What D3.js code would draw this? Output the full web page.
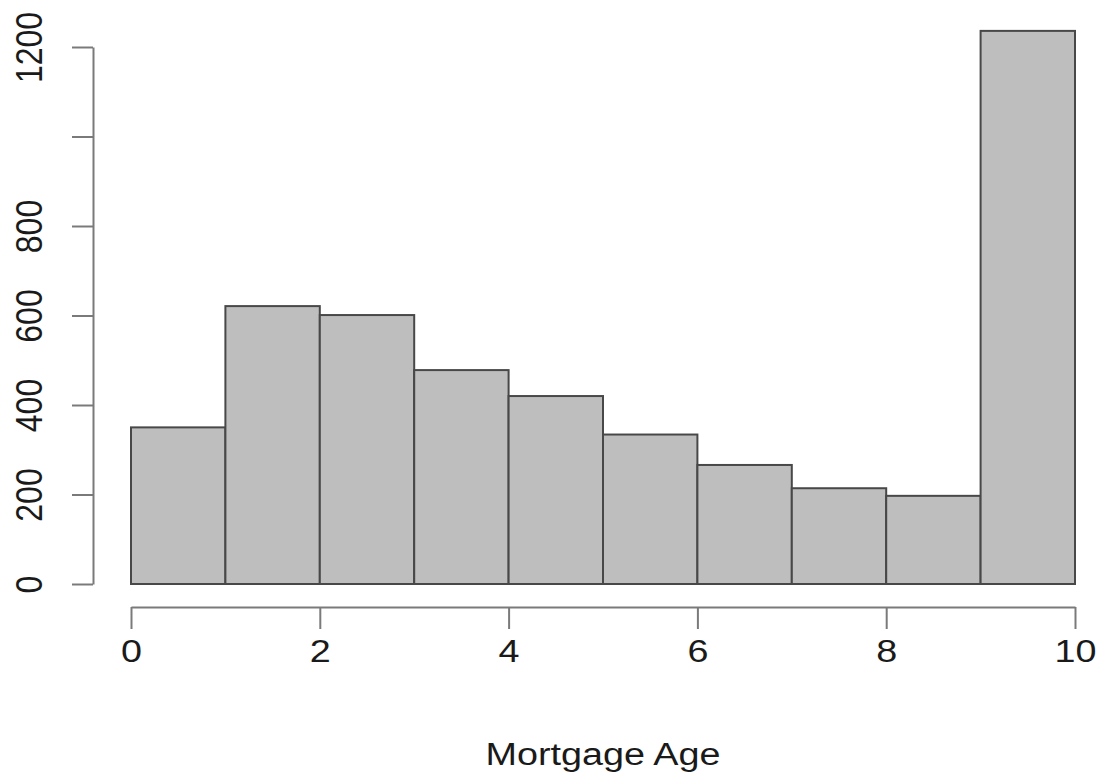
<!DOCTYPE html>
<html>
<head>
<meta charset="utf-8">
<script src="https://cdn.jsdelivr.net/npm/d3@7"></script>
<style>
  body { margin: 0; background: #fff; }
  svg text { font-family: "Liberation Sans", Arial, sans-serif; fill: #1a1a1a; }
</style>
</head>
<body>
<svg id="chart"></svg>
<script>
// Histogram bins (Mortgage Age) and counts
const binStarts = [0, 1, 2, 3, 4, 5, 6, 7, 8, 9];
const binWidth = 1;
const counts = [350, 621, 601, 478, 420, 334, 266, 214, 197, 1236];
const xTicks = [0, 2, 4, 6, 8, 10];
const yTicks = [0, 200, 400, 600, 800, 1000, 1200];
const yTickLabels = ['0', '200', '400', '600', '800', '', '1200'];
const xTitle = 'Mortgage Age';

const width = 1100, height = 776;

const svg = d3.select('#chart')
  .attr('width', width)
  .attr('height', height);

// scales
const x = d3.scaleLinear().domain([0, 10]).range([131, 1075]);
const y = d3.scaleLinear().domain([0, 1200]).range([584, 47]);

// bars
svg.selectAll('.bar')
  .data(binStarts.map((s, i) => ({ x0: s, x1: s + binWidth, n: counts[i] })))
  .join('rect')
  .attr('class', 'bar')
  .attr('x', d => x(d.x0))
  .attr('y', d => y(d.n))
  .attr('width', d => x(d.x1) - x(d.x0))
  .attr('height', d => y(0) - y(d.n))
  .attr('fill', '#bebebe')
  .attr('stroke', '#484848')
  .attr('stroke-width', 2);

// x axis (R style, below the bars)
const xAxis = d3.axisBottom(x)
  .tickValues(xTicks)
  .tickSize(22)
  .tickSizeOuter(0)
  .tickFormat(d3.format('d'));

const xAxisG = svg.append('g')
  .attr('transform', 'translate(0,607)')
  .call(xAxis);
xAxisG.select('.domain').attr('stroke', '#7a7a7a').attr('stroke-width', 2);
xAxisG.selectAll('.tick line').attr('stroke', '#7a7a7a').attr('stroke-width', 2);
xAxisG.selectAll('.tick text')
  .attr('font-size', 32)
  .attr('y', 0)
  .attr('dy', 0)
  .attr('transform', 'translate(0,55) scale(1.18,1)');

// y axis, labels rotated
const yAxis = d3.axisLeft(y)
  .tickValues(yTicks)
  .tickSize(21)
  .tickSizeOuter(0)
  .tickFormat((d, i) => yTickLabels[i]);

const yAxisG = svg.append('g')
  .attr('transform', 'translate(93,0)')
  .call(yAxis);
yAxisG.select('.domain').attr('stroke', '#7a7a7a').attr('stroke-width', 2);
yAxisG.selectAll('.tick line').attr('stroke', '#7a7a7a').attr('stroke-width', 2);
yAxisG.selectAll('.tick text')
  .attr('font-size', 32)
  .attr('x', 0)
  .attr('dy', 0)
  .attr('text-anchor', 'middle')
  .attr('transform', 'translate(-51,0) rotate(-90) scale(1,1.18)');

// axis title
svg.append('text')
  .attr('x', (x(0) + x(10)) / 2)
  .attr('y', 765)
  .attr('text-anchor', 'middle')
  .attr('font-size', 31)
  .attr('textLength', 235)
  .attr('lengthAdjust', 'spacingAndGlyphs')
  .text(xTitle);
</script>
</body>
</html>
